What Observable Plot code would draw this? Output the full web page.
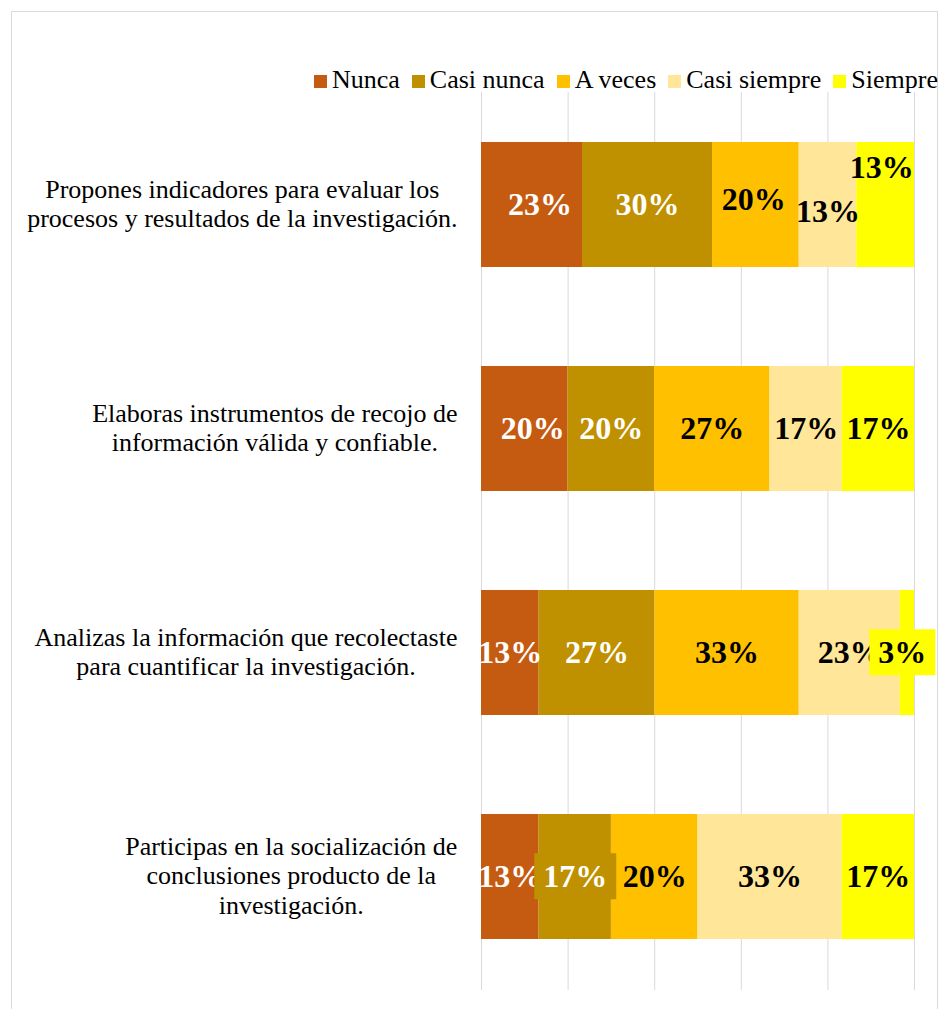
<!DOCTYPE html>
<html>
<head>
<meta charset="utf-8">
<script src="https://cdn.jsdelivr.net/npm/d3@7"></script>
<script src="https://cdn.jsdelivr.net/npm/@observablehq/plot@0.6"></script>
<style>
  body { margin: 0; background: #fff; font-family: "Liberation Serif", "Times New Roman", serif; }
  #wrap { position: relative; width: 939px; height: 1009px; overflow: hidden; }
  #border { position: absolute; left: 11px; top: 11px; width: 927px; height: 1100px; border: 1px solid #d9d9d9; box-sizing: border-box; pointer-events: none; }
  #legend { position: relative; height: 92px; }
  #legend .items { position: absolute; left: 314px; top: 67px; display: flex; align-items: center; white-space: nowrap; font-size: 26px; line-height: 26px; color: #000; }
  #legend .item { display: flex; align-items: center; margin-right: 12px; }
  #legend .sw { width: 13px; height: 13px; margin-right: 5px; position: relative; top: 1px; }
  #chart svg { display: block; }
</style>
</head>
<body>
<div id="wrap">
  <div id="border"></div>
  <div id="legend"><div class="items"></div></div>
  <div id="chart"></div>
</div>
<script>
// ---- data ----
const categories = [
  "Propones indicadores para evaluar los\nprocesos y resultados de la investigación.",
  "Elaboras instrumentos de recojo de\ninformación válida y confiable.",
  "Analizas la información que recolectaste\npara cuantificar la investigación.",
  "Participas en la socialización de\nconclusiones producto de la\ninvestigación."
];
const levels = ["Nunca", "Casi nunca", "A veces", "Casi siempre", "Siempre"];
const colors = ["#C55A11", "#BF9000", "#FFC000", "#FFE699", "#FFFF00"];
const nunca       = [23.3, 20.0, 13.3, 13.3];
const casiNunca   = [30.0, 20.0, 26.7, 16.7];
const aVeces      = [20.0, 26.7, 33.3, 20.0];
const casiSiempre = [13.3, 16.7, 23.3, 33.3];
const siempre     = [13.3, 16.7,  3.3, 16.7];
const gridTicks = [0, 20, 40, 60, 80, 100];

const series = [nunca, casiNunca, aVeces, casiSiempre, siempre];
const rows = categories.flatMap((c, i) => levels.map((l, j) => ({category: c, level: l, value: series[j][i]})));

// ---- legend ----
const items = document.querySelector("#legend .items");
levels.forEach((l, j) => {
  const it = document.createElement("div");
  it.className = "item";
  const sw = document.createElement("span");
  sw.className = "sw";
  sw.style.background = colors[j];
  const tx = document.createElement("span");
  tx.textContent = l;
  it.append(sw, tx);
  items.append(it);
});

// ---- chart ----
const serif = "Liberation Serif, Times New Roman, serif";
const fmt = v => Math.round(v) + "%";
const isWhite = d => d.level === levels[0] || d.level === levels[1];
const key = (ci, li) => d => d.category === categories[ci] && d.level === levels[li];
const shifted = [key(0, 0), key(1, 0), key(0, 2), key(0, 3), key(0, 4)];
const boxed = [key(2, 4), key(3, 1)];
const plain = d => !shifted.some(f => f(d)) && !boxed.some(f => f(d));
const lbl = (pred, opts) => Plot.text(rows, Plot.stackX({
  x: "value", y: "category", offset: "normalize",
  text: d => pred(d) ? fmt(d.value) : null,
  fontSize: 32, fontWeight: "bold", fontFamily: serif,
  ...opts
}));

const plot = Plot.plot({
  width: 939,
  height: 917,
  marginLeft: 481,
  marginRight: 25,
  marginTop: 0,
  marginBottom: 19,
  style: {fontFamily: serif, color: "#000", background: "transparent"},
  x: {domain: [0, 1], axis: null},
  y: {domain: categories, paddingInner: 0.444, paddingOuter: 0, insetTop: 48, insetBottom: 50, label: null},
  color: {domain: levels, range: colors},
  marks: [
    Plot.ruleX(gridTicks, {x: d => d / 100, stroke: "#d9d9d9", strokeWidth: 1}),
    Plot.barX(rows, Plot.stackX({x: "value", y: "category", fill: "level", offset: "normalize"})),
    Plot.axisY({tickSize: 0, tickPadding: 24, fontSize: 26, lineHeight: 1.13, fontFamily: serif, fill: "#000", lineWidth: Infinity, dy: -2}),
    lbl(d => plain(d) && isWhite(d), {fill: "white"}),
    lbl(d => plain(d) && !isWhite(d), {fill: "black"}),
    lbl(d => key(0, 0)(d) || key(1, 0)(d), {fill: "white", dx: 8}),
    lbl(key(0, 2), {fill: "black", dy: -5, dx: -2}),
    lbl(key(0, 3), {fill: "black", dy: 7}),
    lbl(key(0, 4), {fill: "black", dy: -37, dx: -4}),
    lbl(key(2, 4), {fill: "black", dx: -5, ariaDescription: "boxed-4"}),
    lbl(key(3, 1), {fill: "white", ariaDescription: "boxed-1"})
  ]
});
document.getElementById("chart").append(plot);

// center the multi-line category labels on their widest line (right edge fixed)
plot.querySelectorAll('g[aria-label="y-axis tick label"] text').forEach(t => {
  const w = t.getBBox().width;
  t.setAttribute("text-anchor", "middle");
  t.setAttribute("transform", ((t.getAttribute("transform") || "") + ` translate(${-w / 2},0)`).trim());
});

// label background boxes (as in the reference)
plot.querySelectorAll('g[aria-description^="boxed-"]').forEach(g => {
  const idx = +g.getAttribute("aria-description").split("-")[1];
  g.querySelectorAll("text").forEach(t => {
    const b = t.getBBox();
    const r = document.createElementNS("http://www.w3.org/2000/svg", "rect");
    r.setAttribute("x", b.x - 9);
    r.setAttribute("y", b.y - 5);
    r.setAttribute("width", b.width + 18);
    r.setAttribute("height", b.height + 10);
    const tr = t.getAttribute("transform");
    if (tr) r.setAttribute("transform", tr);
    r.setAttribute("fill", colors[idx]);
    r.setAttribute("stroke", "none");
    g.insertBefore(r, t);
  });
});
</script>
</body>
</html>
